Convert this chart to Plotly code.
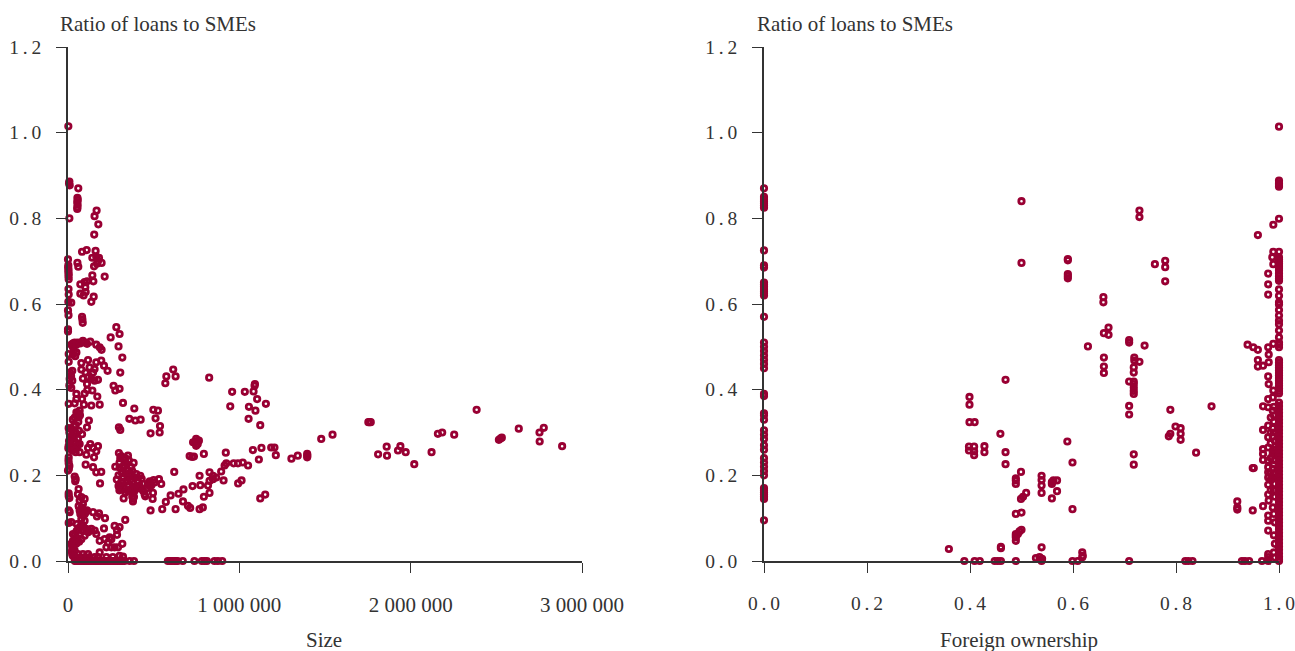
import plotly.graph_objects as go

# ---- Left panel: (bank size, ratio of loans to SMEs)
size_top = [(2000,1.015),(8000,.886),(6000,.882),(10000,.877),(60000,.870),(55000,.848),(57000,.843),(54000,.838),(56000,.832),(55000,.826),(54000,.822),
 (167000,.818),(155000,.805),(177000,.786),(8000,.80),(153000,.762),(82000,.722),(109000,.726),(161000,.724),(0,.704),(2000,.69),(1000,.685),(3000,.68),(2000,.675),(4000,.67),(3000,.665),
 (4000,.658),(3000,.635),(4000,.622),(2000,.605),(19000,.603),(0,.585),(3000,.574),(55000,.696),(60000,.687),(142000,.708),(165000,.71),(181000,.708),(152000,.688),(169000,.694),(196000,.696),(175000,.70),
 (142000,.667),(148000,.653),(214000,.664),(72000,.646),(97000,.651),(111000,.653),(101000,.639),(72000,.624),(91000,.62),(103000,.628),(150000,.617),(136000,.605),(82000,.57),(84000,.564),(86000,.556),(282000,.546),(0,.541),(0,.536)]
size_upper = [(249000,.522),(301000,.530),(295000,.501),(317000,.475),(305000,.44),(-3000,.51),(20000,.505),(39000,.51),(58000,.51),(87000,.514),(111000,.507),(130000,.512),(165000,.505),(185000,.499),(196000,.493),
 (29000,.499),(49000,.487),(29000,.482),(4000,.483),(4000,.465),(117000,.469),(78000,.462),(78000,.447),(126000,.452),(155000,.448),(165000,.464),(194000,.468),(210000,.456),(231000,.444),(103000,.44),(146000,.44),
 (87000,.426),(117000,.429),(155000,.421),(175000,.423),(136000,.425),(111000,.413),(25000,.444),(10000,.425),(25000,.421),(19000,.404),(113000,.399),(142000,.398),(97000,.391),(49000,.39),(49000,.378),(82000,.378),(171000,.384),
 (4000,.367),(39000,.368),(93000,.365),(136000,.363),(185000,.365),(266000,.409),(276000,.398),(301000,.402),(321000,.369),(387000,.356),(358000,.332),(393000,.328),(424000,.33),
 (498000,.353),(525000,.351),(511000,.333),(537000,.315),(482000,.298),(535000,.30),(568000,.415),(574000,.431),(614000,.447),(628000,.431),(824000,.428),
 (958000,.395),(947000,.361),(1032000,.395),(1083000,.396),(1089000,.409),(1091000,.413),(1104000,.378),(1056000,.36),(1094000,.351),(1155000,.367),(1054000,.332),(1122000,.317),
 (30000,.508),(48000,.505),(70000,.508),(98000,.51),(35000,.49),(42000,.478),(12000,.44),(18000,.432),(8000,.41)]
size_lowleft = [(68000,.351),(49000,.347),(39000,.335),(62000,.335),(55000,.345),(122000,.328),(111000,.312),(45000,.317),(4000,.31),(19000,.308),(39000,.30),(82000,.296),(64000,.304),(33000,.289),(58000,.285),
 (4000,.269),(19000,.261),(52000,.265),(68000,.273),(2000,.263),(12000,.275),(45000,.254),(68000,.254),(4000,.242),(4000,.228),(0,.211),(8000,.222),(45000,.191),(39000,.197),(42000,.186),(62000,.168),(4000,.158),(4000,.152),(8000,.147),(58000,.156),
 (130000,.273),(175000,.268),(117000,.264),(146000,.264),(107000,.248),(165000,.256),(152000,.242),(103000,.225),(146000,.219),(165000,.207),(194000,.208),(187000,.181),(297000,.312),(305000,.306),
 (28000,.33),(35000,.315),(45000,.30),(25000,.295),(18000,.29),(30000,.275),(42000,.278),(55000,.27),(10000,.265),(25000,.258),(38000,.26),(6000,.28),(8000,.30),(52000,.34),(60000,.325),(3000,.235),(5000,.215),(60000,.345),(70000,.34)]
size_cluster = [(297000,.252),(350000,.246),(276000,.22),(301000,.23),(321000,.238),(301000,.218),(331000,.222),(383000,.229),(369000,.219),(350000,.211),(336000,.203),(321000,.195),(422000,.199),(399000,.203),
 (301000,.178),(350000,.176),(305000,.170),(360000,.166),(325000,.146),(379000,.139),(389000,.164),(418000,.176),(438000,.164),(447000,.156),(451000,.151),(494000,.145),(496000,.159),(477000,.186),(500000,.189),(531000,.191),(544000,.18),(467000,.180),(486000,.176),
 (310000,.245),(340000,.228),(355000,.235),(315000,.205),(345000,.185),(375000,.185),(295000,.200),(285000,.190),(325000,.172),(410000,.185),(395000,.170),(300000,.165),(335000,.160),(375000,.150),(430000,.192),(460000,.170),
 (320000,.22),(335000,.24),(305000,.24),(360000,.205),(375000,.21),(390000,.195),(365000,.19),(350000,.195),(320000,.185),(375000,.17),(345000,.165),(405000,.195),(385000,.15),(380000,.145),(420000,.17),(440000,.18),(475000,.175),(505000,.183),(295000,.175),(310000,.183)]
size_right = [(620000,.208),(482000,.118),(550000,.121),(571000,.138),(599000,.153),(628000,.121),(645000,.157),(674000,.167),(671000,.139),(700000,.129),(713000,.124),(727000,.175),(768000,.121),(787000,.125),(772000,.177),(768000,.199),
 (793000,.15),(826000,.159),(817000,.176),(826000,.207),(846000,.199),(826000,.187),(846000,.191),(894000,.209),(908000,.188),(865000,.195),(914000,.223),(924000,.228),(967000,.228),(992000,.228),(1020000,.23),(1051000,.223),(993000,.181),(1013000,.188),
 (921000,.253),(793000,.25),(710000,.245),(725000,.243),(735000,.244),(748000,.269),(739000,.277),(748000,.285),(764000,.281),(730000,.277),(757000,.273),(752000,.279),
 (1079000,.259),(1129000,.264),(1114000,.237),(1122000,.146),(1151000,.155),(1186000,.265),(1205000,.265),(1213000,.247),(1304000,.239),(1341000,.246),(1396000,.25),(1397000,.246),(1396000,.242),
 (1478000,.285),(1544000,.295),(1753000,.324),(1760000,.324),(1767000,.324),(1810000,.249),(1860000,.267),(1862000,.246),(1926000,.258),(1940000,.268),(1971000,.254),(2021000,.226),(2122000,.254),(2159000,.297),(2184000,.30),(2254000,.295),(2385000,.353),
 (2515000,.283),(2524000,.286),(2532000,.288),(2631000,.309),(2752000,.30),(2777000,.311),(2753000,.279),(2884000,.268)]
size_low = [(4000,.118),(10000,.114),(4000,.089),(19000,.091),(52000,.086),(68000,.118),(87000,.133),(68000,.141),(97000,.145),(78000,.149),(103000,.114),(111000,.118),(87000,.106),(97000,.094),(78000,.098),
 (146000,.114),(181000,.111),(169000,.104),(216000,.10),(136000,.075),(117000,.072),(87000,.07),(68000,.063),(49000,.055),(29000,.063),(29000,.047),(58000,.047),(78000,.051),(97000,.059),(117000,.067),(156000,.071),(165000,.063),(210000,.076),
 (185000,.047),(214000,.051),(243000,.055),(286000,.061),(272000,.082),(301000,.079),(334000,.096),(317000,.04),(286000,.072),(224000,.032),(253000,.032),(272000,.032),(292000,.032),(253000,.051),(233000,.043),
 (25000,.032),(39000,.024),(58000,.016),(25000,.016),(19000,.04),(33000,.04),(185000,.02),(117000,.016),(126000,.009),(97000,.009),(156000,.009),(175000,.009),(224000,.009),(262000,.009),(301000,.012),(321000,.01),(87000,.016),(49000,.009),(68000,.005),
 (40000,.06),(50000,.07),(60000,.075),(70000,.08),(80000,.085),(90000,.08),(105000,.075),(125000,.07),(38000,.045),(48000,.04),(65000,.045),(72000,.11),(80000,.125),(62000,.128),(88000,.118),(98000,.11),(30000,.03),(22000,.022),(28000,.012),(35000,.01)]
size_zero = [40000,48000,58000,68000,78000,88000,98000,108000,118000,128000,138000,148000,158000,168000,178000,188000,198000,208000,218000,228000,238000,248000,258000,268000,278000,288000,298000,308000,318000,330000,360000,385000,
 583000,595000,607000,620000,630000,640000,670000,738000,781000,797000,811000,855000,875000,900000]

# ---- Right panel: (foreign ownership, ratio of loans to SMEs)
foreign_none_y = [.87,.85,.845,.84,.835,.83,.825,.725,.69,.685,.65,.645,.64,.635,.63,.625,.62,.57,.51,.50,.49,.48,.47,.46,.45,.39,.385,.345,.34,.33,.305,.295,.285,.27,.26,.24,.23,.22,.21,.2,.17,.165,.16,.155,.15,.145,.095]
foreign_mid = [(.359,.028),(.389,0),(.409,0),(.419,0),(.448,0),(.454,0),(.46,0),(.46,.03),(.46,.033),(.489,0),(.469,.423),(.399,.383),(.399,.365),(.399,.324),(.409,.324),(.459,.297),(.398,.267),(.398,.258),(.408,.267),(.408,.247),(.408,.256),
 (.428,.268),(.428,.254),(.469,.254),(.469,.226),(.499,.208),(.489,.193),(.489,.188),(.489,.18),(.509,.159),(.499,.145),(.503,.15),(.489,.11),(.5,.113),(.489,.063),(.489,.059),(.489,.055),(.489,.047),(.493,.063),(.496,.069),(.5,.073),
 (.539,.199),(.539,.189),(.539,.176),(.539,.159),(.539,.032),(.528,.007),(.535,.009),(.54,.005),(.539,0),(.559,.184),(.562,.188),(.569,.188),(.559,.18),(.569,.163),(.559,.146),(.589,.279),(.599,.23),(.599,.121),(.599,0),(.609,0),(.618,.02),(.619,.012),(.618,.009),
 (.629,.501),(.66,.475),(.66,.454),(.66,.439),(.709,0),(.709,.51),(.739,.503),(.719,.475),(.719,.468),(.729,.465),(.718,.452),(.718,.44),(.709,.419),(.718,.419),(.718,.413),(.718,.405),(.718,.397),(.718,.39),(.709,.362),(.709,.342),(.718,.249),(.718,.225),
 (.5,.84),(.5,.696),(.59,.705),(.59,.702),(.59,.67),(.59,.665),(.59,.66),(.729,.818),(.729,.803),(.759,.693),(.779,.701),(.779,.686),(.779,.653),(.659,.616),(.659,.604),(.669,.545),(.66,.532),(.669,.528),(.709,.516)]
foreign_high = [(.959,.761),(.989,.785),(.989,.722),(.987,.709),(.989,.693),(.979,.671),(.979,.646),(.979,.622),(.939,.505),(.95,.499),(.959,.493),(.979,.499),(.989,.507),(.959,.469),(.959,.454),(.969,.456),(.98,.464),(.98,.482),(.979,.431),(.98,.413),(.989,.398),
 (.969,.361),(.979,.378),(.979,.359),(.988,.382),(.988,.351),(.869,.361),(.789,.353),(.799,.314),(.809,.31),(.809,.297),(.809,.283),(.789,.297),(.786,.291),(.839,.253),(.818,0),(.824,0),(.832,0),(.928,0),(.934,0),(.942,0),(.919,.139),(.919,.125),(.919,.12),
 (.949,.217),(.951,.217),(.949,.118),(.967,0),(.979,.016),(.979,.009),(.979,0),(.969,.306),(.979,.316),(.979,.289),(.979,.265),(.969,.261),(.969,.25),(.969,.236),(.979,.234),(.979,.219),(.979,.207),(.979,.195),(.979,.178),(.988,.31),(.988,.29),(.988,.25),(.988,.215),(.988,.195),(.979,.155),(.969,.128),(.98,.141),(.988,.125),(.979,.106),(.979,.094),(.979,.071),(.988,.255),(.984,.30),(.984,.275),(.984,.24),
 (.99,.36),(.99,.34),(.99,.325),(.99,.30),(.992,.28),(.99,.26),(.992,.235),(.99,.225),(.99,.205),(.992,.18),(.99,.165),(.992,.15),(.99,.11),(.992,.09),(.99,.06),(.992,.04),(.99,.02),(.992,.008),(.984,.335),(.984,.205),(.984,.19),(.984,.165)]
foreign_full_y = [1.014,.888,.882,.878,.874,.799,.722,.709,.704,.699,.694,.689,.684,.679,.672,.665,.659,.654,.634,.619,.604,.599,.586,.573,.561,.553,.538,.522,.51,.505,.499,
 .469,.463,.457,.451,.445,.439,.433,.427,.421,.415,.409,.403,.397,.391,.37,.362,.354,.346,.338,.33,.322,.314,.306,.298,.29,.282,.274,.266,.258,.25,.242,.234,.226,.218,.21,.202,.194,.186,.178,.17,.162,.154,.146,.138,.13,.122,.114,.106,.098,.09,.082,.074,.066,.058,.05,.042,.034,.026,.018,.01,.004,0]

y_ticks = [0, .2, .4, .6, .8, 1.0, 1.2]
y_labels = ["0\u2009.\u20090", "0\u2009.\u20092", "0\u2009.\u20094", "0\u2009.\u20096", "0\u2009.\u20098", "1\u2009.\u20090", "1\u2009.\u20092"]
size_ticks = [0, 1000000, 2000000, 3000000]
size_labels = ["0", "1 000 000", "2 000 000", "3 000 000"]
foreign_ticks = [0, .2, .4, .6, .8, 1.0]
foreign_labels = ["0\u2009.\u20090", "0\u2009.\u20092", "0\u2009.\u20094", "0\u2009.\u20096", "0\u2009.\u20098", "1\u2009.\u20090"]
y_title = "Ratio of loans to SMEs"

COLOR = "#990033"
TEXT = "#333333"
FONT = "Liberation Serif"
W, H = 1295, 651

size_pts = size_top + size_upper + size_lowleft + size_cluster + size_right + size_low + [(v, 0) for v in size_zero]
foreign_pts = [(0, v) for v in foreign_none_y] + foreign_mid + foreign_high + [(1, v) for v in foreign_full_y]

marker = dict(symbol="circle-open", size=5.4, color=COLOR, line=dict(color=COLOR, width=2.8))
fig = go.Figure()
fig.add_trace(go.Scatter(x=[p[0] for p in size_pts], y=[p[1] for p in size_pts], mode="markers", marker=marker, cliponaxis=False, xaxis="x", yaxis="y", showlegend=False))
fig.add_trace(go.Scatter(x=[p[0] for p in foreign_pts], y=[p[1] for p in foreign_pts], mode="markers", marker=marker, cliponaxis=False, xaxis="x2", yaxis="y2", showlegend=False))

axis_common = dict(showgrid=False, zeroline=False, showline=True, linecolor=TEXT, linewidth=1.5, ticks="outside", ticklen=10, tickcolor=TEXT, tickwidth=1.2, automargin=False, ticklabeloverflow="allow")
dec_font = dict(family=FONT, size=19.5, color=TEXT)
ydom = [(H - 561) / H, (H - 47) / H]
fig.update_layout(
    width=W, height=H, margin=dict(l=0, r=0, t=0, b=0), paper_bgcolor="white", plot_bgcolor="white", showlegend=False,
    xaxis=dict(domain=[68 / W, 582 / W], range=[0, 3000000], tickvals=size_ticks, ticktext=size_labels, anchor="y", ticklabelstandoff=14, tickfont=dict(family=FONT, size=21, color=TEXT), **axis_common),
    yaxis=dict(domain=ydom, range=[0, 1.2], tickvals=y_ticks, ticktext=y_labels, anchor="x", ticklabelstandoff=11, tickfont=dec_font, **axis_common),
    xaxis2=dict(domain=[764 / W, 1279 / W], range=[0, 1], tickvals=foreign_ticks, ticktext=foreign_labels, anchor="y2", ticklabelstandoff=14, tickfont=dec_font, **axis_common),
    yaxis2=dict(domain=ydom, range=[0, 1.2], tickvals=y_ticks, ticktext=y_labels, anchor="x2", ticklabelstandoff=11, tickfont=dec_font, **axis_common),
)
def note(text, x, y, anchor):
    fig.add_annotation(text=text, x=x / W, y=1 - y / H, xref="paper", yref="paper", xanchor=anchor, yanchor="middle", showarrow=False,
                       borderpad=0, borderwidth=0, font=dict(family=FONT, size=21, color=TEXT))
note(y_title, 60, 24, "left")
note(y_title, 757, 24, "left")
note("Size", 324, 640, "center")
note("Foreign ownership", 1019, 640, "center")

fig.write_html("out.html", config={"displayModeBar": False}, post_script="document.body.style.margin='0';")
